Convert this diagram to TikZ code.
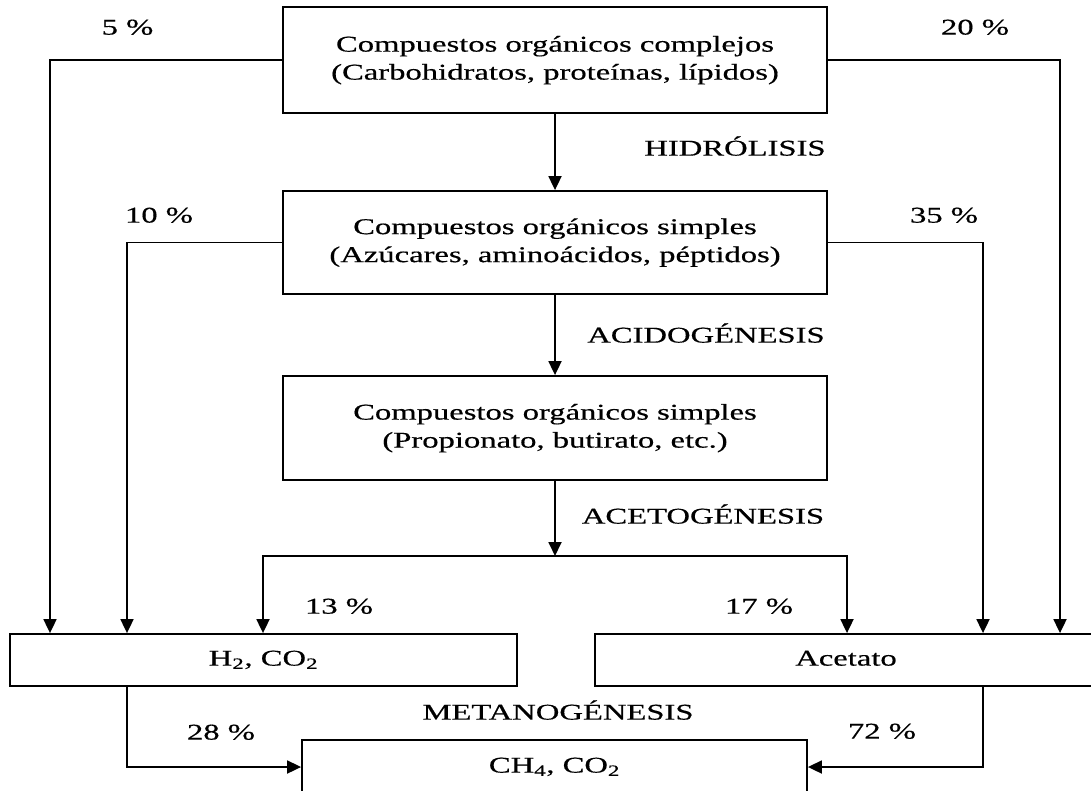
\documentclass[tikz,border=0pt]{standalone}
\usepackage{fontspec}
\setmainfont{Liberation Serif}[FakeBold=0.4]
\newfontfamily\thickserif{Liberation Serif}[FakeBold=0.4]
\usepackage{graphicx}
\usetikzlibrary{arrows.meta}
\newcommand{\sx}[1]{\scalebox{1.45}[1]{\begin{tabular}{@{}c@{}}#1\end{tabular}}}
\begin{document}
\begin{tikzpicture}[x=1pt,y=-1pt,
  every node/.style={font=\thickserif\fontsize{22.5}{28}\selectfont, text=black, inner sep=0pt},
  box/.style={draw, line width=1.8pt, rectangle, fill=white},
  bigbox/.style={box, minimum width=544pt},
  lowbox/.style={box, minimum height=52pt},
  arr/.style={line width=1.8pt, -{Triangle[length=14pt,width=13pt]}},
  ln/.style={line width=1.8pt}]
\useasboundingbox (0,0) rectangle (1091,790);
\clip (0,0) rectangle (1091,790);
% boxes
\node[bigbox, minimum height=106pt] (b1) at (555,60) {\sx{Compuestos orgánicos complejos\\(Carbohidratos, proteínas, lípidos)}};
\node[bigbox, minimum height=103pt] (b2) at (555,242.5) {\sx{Compuestos orgánicos simples\\(Azúcares, aminoácidos, péptidos)}};
\node[bigbox, minimum height=104pt] (b3) at (555,428) {\sx{Compuestos orgánicos simples\\(Propionato, butirato, etc.)}};
\node[lowbox, minimum width=507pt] (h2) at (263.5,660) {\sx{H\textsubscript{2}, CO\textsubscript{2}}};
\node[lowbox, minimum width=502pt] (ac) at (846,660) {\sx{Acetato}};
\node[lowbox, minimum width=505pt, minimum height=54pt] (ch4) at (554.5,767) {\sx{CH\textsubscript{4}, CO\textsubscript{2}}};
% column coordinates
\coordinate (xa) at (50,0);
\coordinate (xb) at (127,0);
\coordinate (xc) at (263,0);
\coordinate (xd) at (847,0);
\coordinate (xe) at (983,0);
\coordinate (xf) at (1060,0);
\coordinate (split) at (555,556);
% connectors
\draw[arr] (b1.west) -| (h2.north -| xa);
\draw[arr] (b1.east) -| (ac.north -| xf);
\draw[arr] (b2.west) -| (h2.north -| xb);
\draw[arr] (b2.east) -| (ac.north -| xe);
\draw[arr] (b1.south) -- (b2.north);
\draw[arr] (b2.south) -- (b3.north);
\draw[arr] (b3.south) -- (split);
\draw[arr] (split) -| (h2.north -| xc);
\draw[arr] (split) -| (ac.north -| xd);
\draw[arr] (h2.south -| xb) |- (ch4.west);
\draw[arr] (ac.south -| xe) |- (ch4.east);
% labels
\node (p5) at (127.5,29) {\sx{5 \%}};
\node (p20) at (975,29) {\sx{20 \%}};
\node (p10) at (159,217) {\sx{10 \%}};
\node (p35) at (944,217) {\sx{35 \%}};
\node (p13) at (339,608) {\sx{13 \%}};
\node (p17) at (759,608) {\sx{17 \%}};
\node (p28) at (221,734) {\sx{28 \%}};
\node (p72) at (882,733) {\sx{72 \%}};
\node (hid) at (735,150) {\sx{HIDRÓLISIS}};
\node (acid) at (706,337) {\sx{ACIDOGÉNESIS}};
\node (acet) at (703,518) {\sx{ACETOGÉNESIS}};
\node (met) at (558,714) {\sx{METANOGÉNESIS}};
\end{tikzpicture}
\end{document}
